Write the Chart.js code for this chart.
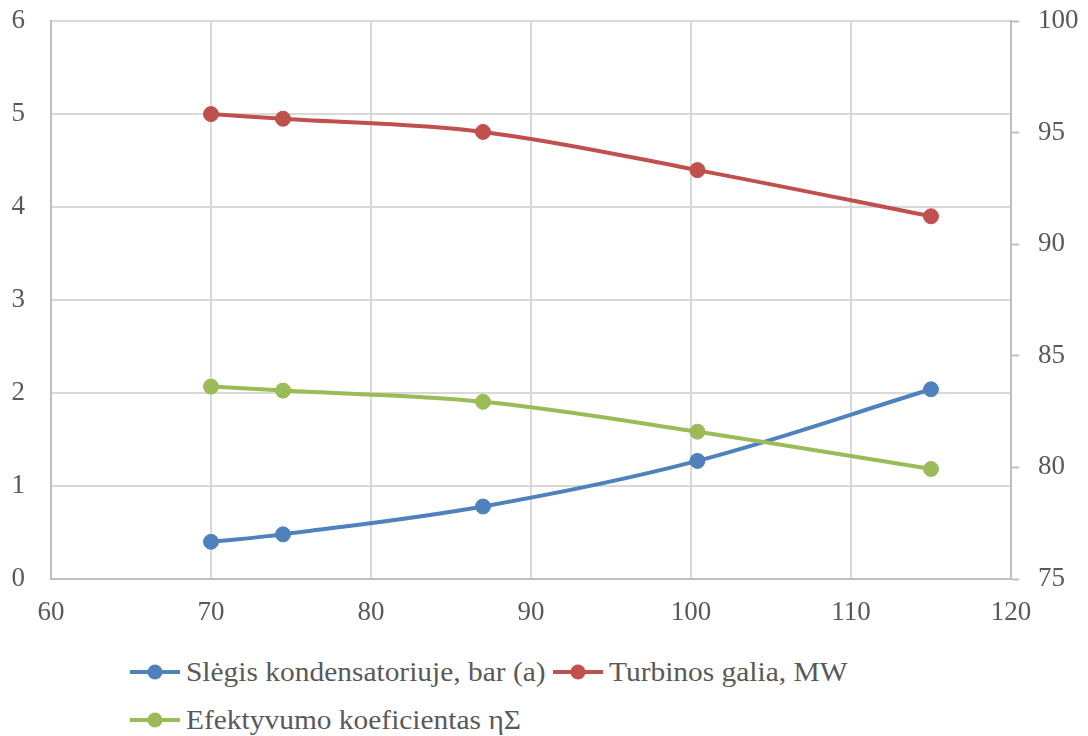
<!DOCTYPE html>
<html lang="lt">
<head>
<meta charset="utf-8">
<title>Slėgis kondensatoriuje, turbinos galia ir efektyvumo koeficientas</title>
<script src="https://cdn.jsdelivr.net/npm/chart.js@4.4.1/dist/chart.umd.min.js"></script>
<style>
  html, body { margin: 0; padding: 0; background: #ffffff; }
  #wrap { position: relative; width: 1088px; height: 736px; overflow: hidden; }
  #chart { position: absolute; left: 0; top: 0; }
  #legend {
    position: absolute; left: 130px; top: 648px; width: 780px;
    display: flex; flex-wrap: wrap; align-items: center;
    font-family: "Liberation Serif", "Times New Roman", serif;
    font-size: 27px; color: #595959;
  }
  .item { display: flex; align-items: center; height: 48px; margin-right: 7px; }
  .item svg { display: block; flex: none; }
  .item .name { flex: none; margin-left: 6px; }
  .item span { display: inline-block; white-space: nowrap;
               transform: scaleX(1.09); transform-origin: left center; }
</style>
</head>
<body>
<div id="wrap">
  <canvas id="chart" width="1088" height="640"></canvas>
  <div id="legend"></div>
</div>
<script>
// Measured operating points (x axis: 60–120)
const xValues = [70, 74.5, 87, 100.4, 115];

// Condenser pressure, bar (a) — left axis
const pressure = [0.40, 0.48, 0.78, 1.27, 2.04];
// Turbine output, MW — right axis
const turbinePower = [95.83, 95.62, 95.03, 93.32, 91.25];
// Overall efficiency ηΣ — right axis
const efficiency = [83.62, 83.44, 82.94, 81.60, 79.93];

const seriesLabels = [
  "Slėgis kondensatoriuje, bar (a)",
  "Turbinos galia, MW",
  "Efektyvumo koeficientas ηΣ"
];
const seriesColors = ["#4F81BD", "#C0504D", "#9BBB59"];

const xTicks = { min: 60, max: 120, step: 10 };
const leftTicks = { min: 0, max: 6, step: 1 };
const rightTicks = { min: 75, max: 100, step: 5 };

const FONT = '"Liberation Serif", "Times New Roman", serif';
const TEXT = "#595959";
const GRID = "#D9D9D9";
const AXIS = "#BFBFBF";

function points(ys) {
  return xValues.map((x, i) => ({ x: x, y: ys[i] }));
}

function series(idx, ys, axis, order) {
  const c = seriesColors[idx];
  return {
    label: seriesLabels[idx],
    data: points(ys),
    yAxisID: axis,
    order: order,
    borderColor: c,
    backgroundColor: c,
    borderWidth: 4,
    tension: 0.35,
    pointRadius: 7.5,
    pointHoverRadius: 7.5,
    pointBackgroundColor: c,
    pointBorderColor: c,
    pointBorderWidth: 1,
    fill: false
  };
}

const datasets = [
  series(0, pressure, "y", 2),
  series(1, turbinePower, "y1", 1),
  series(2, efficiency, "y1", 0)
];

const tickFont = { family: FONT, size: 27 };

// Fixed axis widths; the vertical axes do not push the plot area down
function fitVertical(width) {
  return (s) => { s.width = width; s.paddingTop = 0; s.paddingBottom = 0; };
}

new Chart(document.getElementById("chart"), {
  type: "line",
  data: { datasets: datasets },
  options: {
    responsive: false,
    animation: false,
    devicePixelRatio: 1,
    layout: { padding: { top: 21, left: 0, right: 0, bottom: 0 } },
    plugins: { legend: { display: false }, tooltip: { enabled: false } },
    scales: {
      x: {
        type: "linear",
        min: xTicks.min, max: xTicks.max,
        ticks: { stepSize: xTicks.step, font: tickFont, color: TEXT, padding: 18 },
        grid: {
          color: (ctx) => (ctx.tick && (ctx.tick.value === xTicks.min || ctx.tick.value === xTicks.max)) ? "rgba(0,0,0,0)" : GRID,
          lineWidth: 2, drawTicks: false
        },
        border: { color: AXIS, width: 2 },
        afterFit: (s) => { s.height = 61; }
      },
      y: {
        type: "linear", position: "left",
        min: leftTicks.min, max: leftTicks.max,
        ticks: { stepSize: leftTicks.step, font: tickFont, color: TEXT, padding: 26 },
        grid: {
          color: (ctx) => (ctx.tick && ctx.tick.value === leftTicks.min) ? "rgba(0,0,0,0)" : GRID,
          lineWidth: 2, drawTicks: false
        },
        border: { color: AXIS, width: 2 },
        afterFit: fitVertical(51)
      },
      y1: {
        type: "linear", position: "right",
        min: rightTicks.min, max: rightTicks.max,
        ticks: { stepSize: rightTicks.step, font: tickFont, color: TEXT, padding: 19 },
        grid: {
          drawOnChartArea: false, drawTicks: true,
          tickLength: 8, tickColor: AXIS, tickWidth: 2
        },
        border: { color: AXIS, width: 2 },
        afterFit: fitVertical(77)
      }
    }
  }
});

// Legend: line with a marker, then the series name (slightly widened type)
const legend = document.getElementById("legend");
seriesLabels.forEach((label, i) => {
  const c = seriesColors[i];
  const item = document.createElement("div");
  item.className = "item";
  item.innerHTML =
    '<svg width="50" height="18" viewBox="0 0 50 18">' +
    '<line x1="0" y1="9" x2="50" y2="9" stroke="' + c + '" stroke-width="4"/>' +
    '<circle cx="25" cy="9" r="7.5" fill="' + c + '"/></svg>';
  const name = document.createElement("div");
  name.className = "name";
  const span = document.createElement("span");
  span.textContent = label;
  name.appendChild(span);
  item.appendChild(name);
  legend.appendChild(item);
  name.style.width = Math.ceil(span.offsetWidth * 1.09) + "px";
});
</script>
</body>
</html>
